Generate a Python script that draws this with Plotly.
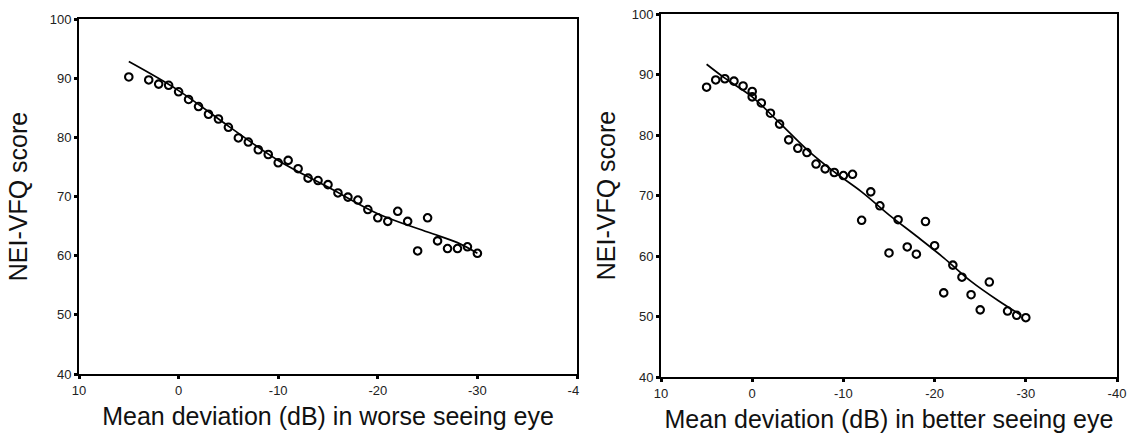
import plotly.graph_objects as go

# ---- data: worse seeing eye ----
worse_md = [5, 3, 2, 1, 0, -1, -2, -3, -4, -5, -6, -7, -8, -9, -10, -11, -12, -13, -14, -15,
            -16, -17, -18, -19, -20, -21, -22, -23, -24, -25, -26, -27, -28, -29, -30]
worse_score = [90.2, 89.7, 89.0, 88.8, 87.7, 86.4, 85.2, 83.9, 83.1, 81.7, 79.9, 79.2, 77.9, 77.1,
               75.7, 76.1, 74.7, 73.1, 72.7, 72.0, 70.6, 69.9, 69.4, 67.8, 66.4, 65.8, 67.5, 65.8,
               60.8, 66.4, 62.5, 61.2, 61.2, 61.5, 60.4]
worse_fit_md = [5, 0, -5, -10, -15, -20, -25, -28, -30]
worse_fit = [92.8, 87.9, 81.9, 76.1, 71.6, 67.1, 64.0, 62.2, 60.4]

# ---- data: better seeing eye ----
better_md = [5, 4, 3, 2, 1, 0, 0, -1, -2, -3, -4, -5, -6, -7, -8, -9, -10, -11, -12, -13, -14,
             -15, -16, -17, -18, -19, -20, -21, -22, -23, -24, -25, -26, -28, -29, -30]
better_score = [87.9, 89.1, 89.3, 88.9, 88.1, 87.2, 86.3, 85.3, 83.6, 81.8, 79.2, 77.8, 77.1, 75.2,
                74.4, 73.8, 73.3, 73.5, 65.9, 70.6, 68.3, 60.5, 66.0, 61.5, 60.3, 65.7, 61.7, 53.9,
                58.5, 56.5, 53.6, 51.1, 55.7, 50.9, 50.2, 49.8]
better_fit_md = [5, 3, 0, -3, -6, -9, -12, -15, -18, -21, -24, -27, -29.5]
better_fit = [91.7, 89.4, 86.3, 82.0, 77.6, 73.9, 70.6, 66.8, 63.3, 59.7, 55.8, 52.6, 50.2]

x_ticks = [10, 0, -10, -20, -30, -40]
# the left panel's last label is cut to "-4" in the reference
x_ticktext_left = ["10", "0", "-10", "-20", "-30", "-4\u00a0\u00a0"]
x_ticktext_right = ["10", "0", "-10", "-20", "-30", "-40"]
y_ticks = [40, 50, 60, 70, 80, 90, 100]

y_title = "NEI-VFQ score"
x_title_left = "Mean deviation (dB) in worse seeing eye"
x_title_right = "Mean deviation (dB) in better seeing eye"

FONT = "Liberation Sans, Arial, sans-serif"

fig = go.Figure()

marker = dict(symbol="circle-open", size=7.5, color="black", line=dict(width=2.1, color="black"))
fit_line = dict(color="black", width=1.7, shape="spline")

fig.add_trace(go.Scatter(x=worse_fit_md, y=worse_fit, mode="lines", line=fit_line,
                         xaxis="x", yaxis="y", showlegend=False))
fig.add_trace(go.Scatter(x=worse_md, y=worse_score, mode="markers", marker=marker,
                         xaxis="x", yaxis="y", showlegend=False))
fig.add_trace(go.Scatter(x=better_fit_md, y=better_fit, mode="lines", line=fit_line,
                         xaxis="x2", yaxis="y2", showlegend=False))
fig.add_trace(go.Scatter(x=better_md, y=better_score, mode="markers", marker=marker,
                         xaxis="x2", yaxis="y2", showlegend=False))

W, H = 1127, 442

def xax(domain, ticktext, title, anchor):
    return dict(domain=domain, range=[10, -40], tickmode="array", tickvals=x_ticks, ticktext=ticktext,
                showgrid=False, zeroline=False, showline=True, linecolor="black", linewidth=2, mirror=True,
                ticks="outside", ticklen=3, tickwidth=3, tickcolor="black",
                tickfont=dict(family=FONT, size=13, color="#222"),
                title=dict(text=title, font=dict(family=FONT, size=25, color="#111"), standoff=11),
                anchor=anchor, automargin=False)

def yax(domain, anchor, standoff):
    return dict(domain=domain, range=[40, 100], tickmode="array", tickvals=y_ticks,
                showgrid=False, zeroline=False, showline=True, linecolor="black", linewidth=2, mirror=True,
                ticks="outside", ticklen=3, tickwidth=3, tickcolor="black",
                tickfont=dict(family=FONT, size=13, color="#222"),
                title=dict(text=y_title, font=dict(family=FONT, size=25, color="#111"), standoff=standoff),
                anchor=anchor, automargin=False)

fig.update_layout(
    width=W, height=H,
    margin=dict(l=0, r=0, t=0, b=0),
    paper_bgcolor="white", plot_bgcolor="white",
    xaxis=xax([79 / W, 577 / W], x_ticktext_left, x_title_left, "y"),
    yaxis=yax([1 - 374 / H, 1 - 19 / H], "x", 15),
    xaxis2=xax([661 / W, 1117 / W], x_ticktext_right, x_title_right, "y2"),
    yaxis2=yax([1 - 377 / H, 1 - 14 / H], "x2", 9),
)

fig.write_html("out.html", config={"displayModeBar": False},
               post_script="document.body.style.margin='0';document.body.style.overflow='hidden';")
